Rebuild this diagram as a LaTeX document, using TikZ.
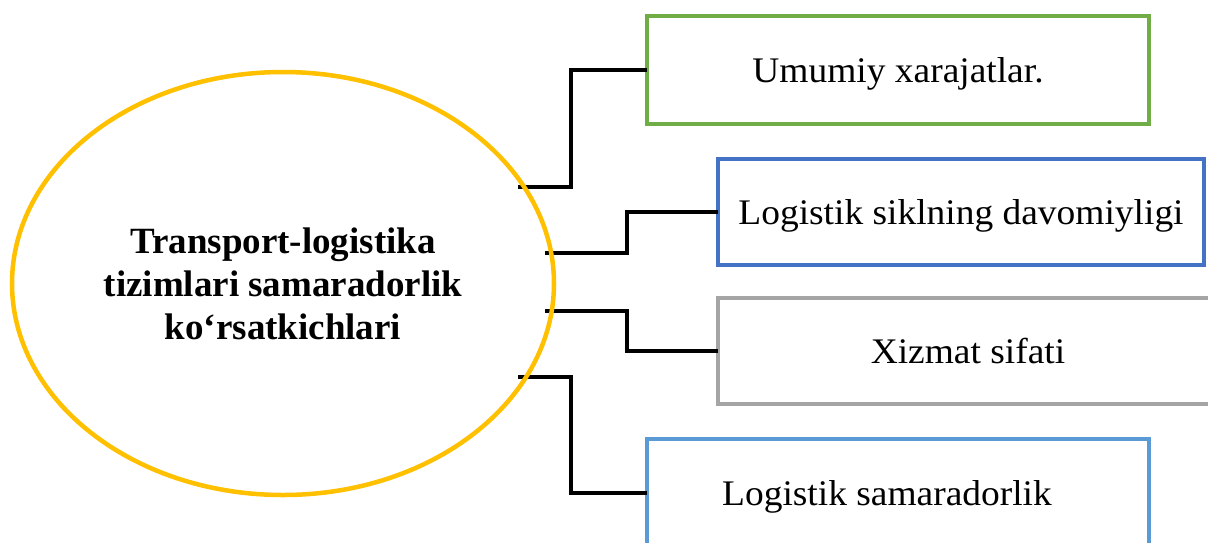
\documentclass[tikz,border=0pt]{standalone}
\usepackage{fontspec}
\setmainfont{Liberation Serif}
\newfontfamily\boxfont{Liberation Serif}[FakeStretch=1.04]
\usetikzlibrary{shapes.geometric}
\definecolor{cgreen}{HTML}{70AD47}
\definecolor{cblue}{HTML}{4472C4}
\definecolor{cgray}{HTML}{A5A5A5}
\definecolor{clblue}{HTML}{5B9BD5}
\definecolor{cyellow}{HTML}{FFC000}
\tikzset{
  boxnode/.style={draw, line width=4.5pt, fill=white, inner sep=0pt, outer sep=0pt,
    font=\boxfont\fontsize{36}{40}\selectfont, text height=24pt, text depth=0pt},
  conn/.style={draw=black, line width=3.5pt},
  mainell/.style={ellipse, draw=cyellow, line width=4.5pt, inner sep=0pt, outer sep=0pt,
    minimum width=542pt, minimum height=423pt,
    font=\fontsize{37}{43}\selectfont\bfseries}
}
\begin{document}
\begin{tikzpicture}[x=1pt,y=-1pt]
\useasboundingbox (0,0) rectangle (1208,542);
\clip (0,0) rectangle (1208,542);
\fill[white] (0,0) rectangle (1208,542);
% boxes
\node[boxnode, draw=cgreen, minimum width=502pt, minimum height=108pt] (b1) at (898,70) {Umumiy xarajatlar.};
\node[boxnode, draw=cblue, minimum width=486pt, minimum height=106pt] (b2) at (961,212) {Logistik siklning davomiyligi};
\node[boxnode, draw=cgray, minimum width=500pt, minimum height=106pt] (b3) at (968,351) {Xizmat sifati};
\node[boxnode, draw=clblue, minimum width=502pt, minimum height=108pt] (b4) at (898,493) {Logistik samaradorlik\kern22pt};
% connector start points
\coordinate (s1) at (518,187);
\coordinate (s2) at (545,253);
\coordinate (s3) at (545,311);
\coordinate (s4) at (518,377);
\draw[conn] (s1) -- ++(53,0) |- (b1.west);
\draw[conn] (s2) -- ++(82,0) |- (b2.west);
\draw[conn] (s3) -- ++(82,0) |- (b3.west);
\draw[conn] (s4) -- ++(53,0) |- (b4.west);
% main ellipse
\node[mainell] (main) at (283,283.5) {\raisebox{3pt}{\parbox{360pt}{\centering Transport-logistika\\tizimlari samaradorlik\\ko‘rsatkichlari}}};
\end{tikzpicture}
\end{document}
